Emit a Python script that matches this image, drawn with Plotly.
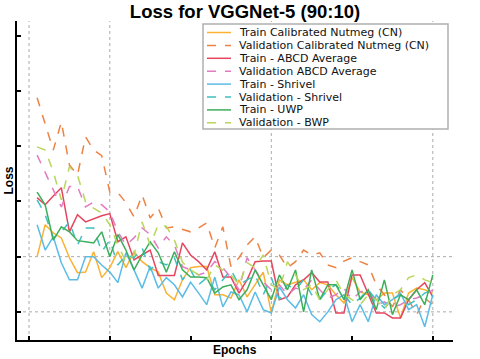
import plotly.graph_objects as go

epochs = list(range(1, 51))

series_names = [
    "Train Calibrated Nutmeg (CN)",
    "Validation Calibrated Nutmeg (CN)",
    "Train - ABCD Average",
    "Validation ABCD Average",
    "Train - Shrivel",
    "Validation - Shrivel",
    "Train - UWP",
    "Validation - BWP",
]

train_cn = [0.300, 0.358, 0.343, 0.334, 0.298, 0.271, 0.272, 0.309, 0.262, 0.280,
            0.309, 0.280, 0.309, 0.291, 0.280, 0.272, 0.234, 0.222, 0.258, 0.280,
            0.282, 0.282, 0.231, 0.231, 0.225, 0.258, 0.227, 0.249, 0.272, 0.198,
            0.258, 0.249, 0.254, 0.258, 0.240, 0.253, 0.249, 0.231, 0.216, 0.262,
            0.236, 0.231, 0.222, 0.234, 0.234, 0.189, 0.234, 0.243, 0.240, 0.234]

val_cn = [0.588, 0.539, 0.493, 0.544, 0.466, 0.448, 0.517, 0.493, 0.483, 0.417,
          0.416, 0.398, 0.372, 0.412, 0.370, 0.388, 0.352, 0.354, 0.349, 0.345,
          0.352, 0.361, 0.316, 0.354, 0.282, 0.298, 0.321, 0.336, 0.298, 0.312,
          0.303, 0.280, 0.291, 0.312, 0.303, 0.307, 0.285, 0.280, 0.292, 0.298,
          0.291, 0.285, 0.249, 0.231, 0.209, 0.240, 0.222, 0.195, 0.225, 0.213]

train_abcd = [0.407, 0.394, 0.410, 0.425, 0.345, 0.376, 0.363, 0.369, 0.374, 0.378,
              0.327, 0.336, 0.294, 0.303, 0.312, 0.266, 0.266, 0.266, 0.325, 0.303,
              0.291, 0.276, 0.309, 0.263, 0.263, 0.234, 0.258, 0.291, 0.292, 0.292,
              0.222, 0.227, 0.249, 0.258, 0.271, 0.254, 0.254, 0.198, 0.198, 0.267,
              0.267, 0.231, 0.198, 0.198, 0.189, 0.189, 0.222, 0.240, 0.253, 0.227]

val_abcd = [0.484, 0.454, 0.421, 0.390, 0.427, 0.427, 0.390, 0.399, 0.394, 0.381,
            0.345, 0.321, 0.334, 0.352, 0.340, 0.316, 0.336, 0.321, 0.282, 0.276,
            0.267, 0.272, 0.291, 0.280, 0.262, 0.240, 0.298, 0.276, 0.254, 0.240,
            0.249, 0.231, 0.243, 0.240, 0.258, 0.240, 0.225, 0.231, 0.243, 0.222,
            0.236, 0.240, 0.213, 0.218, 0.209, 0.213, 0.222, 0.225, 0.231, 0.240]

train_shrivel = [0.358, 0.312, 0.336, 0.289, 0.258, 0.258, 0.300, 0.300, 0.285, 0.272,
                 0.253, 0.307, 0.276, 0.243, 0.282, 0.243, 0.262, 0.249, 0.227, 0.254,
                 0.234, 0.213, 0.263, 0.209, 0.236, 0.231, 0.200, 0.236, 0.204, 0.198,
                 0.245, 0.222, 0.207, 0.231, 0.195, 0.182, 0.200, 0.222, 0.231, 0.182,
                 0.213, 0.182, 0.231, 0.213, 0.222, 0.234, 0.204, 0.213, 0.173, 0.231]

val_shrivel = [0.403, 0.376, 0.334, 0.345, 0.363, 0.321, 0.352, 0.352, 0.309, 0.330,
               0.285, 0.303, 0.298, 0.316, 0.276, 0.291, 0.285, 0.298, 0.258, 0.276,
               0.249, 0.262, 0.240, 0.258, 0.276, 0.249, 0.258, 0.267, 0.231, 0.262,
               0.222, 0.249, 0.240, 0.258, 0.231, 0.222, 0.240, 0.249, 0.231, 0.213,
               0.225, 0.240, 0.222, 0.207, 0.222, 0.231, 0.213, 0.222, 0.234, 0.240]

train_uwp = [0.417, 0.394, 0.330, 0.354, 0.345, 0.329, 0.327, 0.325, 0.345, 0.300,
             0.340, 0.312, 0.276, 0.303, 0.327, 0.307, 0.272, 0.309, 0.276, 0.263,
             0.263, 0.262, 0.234, 0.245, 0.249, 0.222, 0.240, 0.276, 0.249, 0.222,
             0.267, 0.240, 0.276, 0.200, 0.276, 0.222, 0.249, 0.249, 0.222, 0.276,
             0.222, 0.240, 0.204, 0.258, 0.195, 0.231, 0.222, 0.240, 0.213, 0.267]

val_bwp = [0.499, 0.493, 0.454, 0.403, 0.463, 0.448, 0.399, 0.388, 0.379, 0.358,
           0.321, 0.291, 0.303, 0.363, 0.321, 0.358, 0.355, 0.330, 0.290, 0.276,
           0.267, 0.258, 0.285, 0.276, 0.267, 0.249, 0.289, 0.280, 0.303, 0.249,
           0.240, 0.291, 0.267, 0.240, 0.249, 0.222, 0.240, 0.258, 0.231, 0.222,
           0.213, 0.231, 0.222, 0.204, 0.231, 0.240, 0.262, 0.267, 0.258, 0.253]

all_series = [train_cn, val_cn, train_abcd, val_abcd, train_shrivel, val_shrivel, train_uwp, val_bwp]
colors = ["#F9B233", "#EE8243", "#E5465F", "#E27BC0", "#5BBCE6", "#3FC0C0", "#3DAE5B", "#B8D65A"]
dashes = ["solid", "dash", "solid", "dash", "solid", "dash", "solid", "dash"]

x_ticks = [0, 10, 20, 30, 40, 50]
y_ticks = [0.2, 0.3, 0.4, 0.5, 0.6, 0.7]
x_grid = [0, 10, 30, 50]
y_grid = [0.2, 0.3]

FONT = "Liberation Sans, Arial, sans-serif"
LEG_FONT = "DejaVu Sans, Liberation Sans, sans-serif"

fig = go.Figure()
for name, vals, c, d in zip(series_names, all_series, colors, dashes):
    fig.add_trace(go.Scatter(x=epochs, y=vals, mode="lines", name=name,
                             line=dict(color=c, width=1.5, dash=d), showlegend=False))

shapes = []
for gx in x_grid:
    shapes.append(dict(type="line", xref="x", yref="paper", x0=gx, x1=gx, y0=0, y1=1,
                       line=dict(color="#AAAAAA", width=1, dash="dot"), layer="below"))
for gy in y_grid:
    shapes.append(dict(type="line", xref="paper", yref="y", x0=0, x1=1, y0=gy, y1=gy,
                       line=dict(color="#AAAAAA", width=1, dash="dot"), layer="below"))

# Legend (manual, compact)
W, H = 480, 359
L, R, T, B = 17, 27, 21, 19
pw, ph = W - L - R, H - T - B


def px2x(p):
    return (p - L) / pw


def py2y(p):
    return (H - B - p) / ph


shapes.append(dict(type="rect", xref="paper", yref="paper",
                   x0=px2x(203), x1=px2x(448), y0=py2y(129), y1=py2y(24),
                   line=dict(color="#B0B0B0", width=1.5), fillcolor="white", layer="above"))
annotations = []
for i, (name, c, d) in enumerate(zip(series_names, colors, dashes)):
    yy = py2y(32.5 + 12.9 * i)
    shapes.append(dict(type="line", xref="paper", yref="paper", x0=px2x(207), x1=px2x(231),
                       y0=yy, y1=yy, line=dict(color=c, width=1.5, dash=d), layer="above"))
    annotations.append(dict(xref="paper", yref="paper", x=px2x(237), y=yy, text=name,
                            showarrow=False, xanchor="left", yanchor="middle",
                            font=dict(family=LEG_FONT, size=11, color="#111111")))

annotations.append(dict(xref="paper", yref="paper", x=0.5, y=py2y(350), text="<b>Epochs</b>",
                        showarrow=False, xanchor="center", yanchor="middle",
                        font=dict(family=FONT, size=12, color="black")))
annotations.append(dict(xref="paper", yref="paper", x=px2x(8), y=0.5, text="<b>Loss</b>",
                        showarrow=False, xanchor="center", yanchor="middle", textangle=-90,
                        font=dict(family=FONT, size=12, color="black")))

fig.update_layout(
    width=W, height=H,
    margin=dict(l=L, r=R, t=T, b=B),
    paper_bgcolor="white", plot_bgcolor="white",
    title=dict(text="<b>Loss for VGGNet-5 (90:10)</b>", x=245 / W, xanchor="center",
               y=1 - 12 / H, yanchor="middle", font=dict(family=FONT, size=18.5, color="black")),
    shapes=shapes, annotations=annotations,
    showlegend=False,
    xaxis=dict(range=[-1.49, 52.5], tickvals=x_ticks, showticklabels=False, ticks="inside",
               ticklen=4, tickwidth=2, tickcolor="black", showline=True, linecolor="black",
               linewidth=2, showgrid=False, zeroline=False),
    yaxis=dict(range=[0.149, 0.727], tickvals=y_ticks, showticklabels=False, ticks="inside",
               ticklen=4, tickwidth=2, tickcolor="black", showline=True, linecolor="black",
               linewidth=2, showgrid=False, zeroline=False),
)

fig.write_html("out.html", config={"displayModeBar": False},
               post_script="document.body.style.margin='0px';document.body.style.overflow='hidden';")
